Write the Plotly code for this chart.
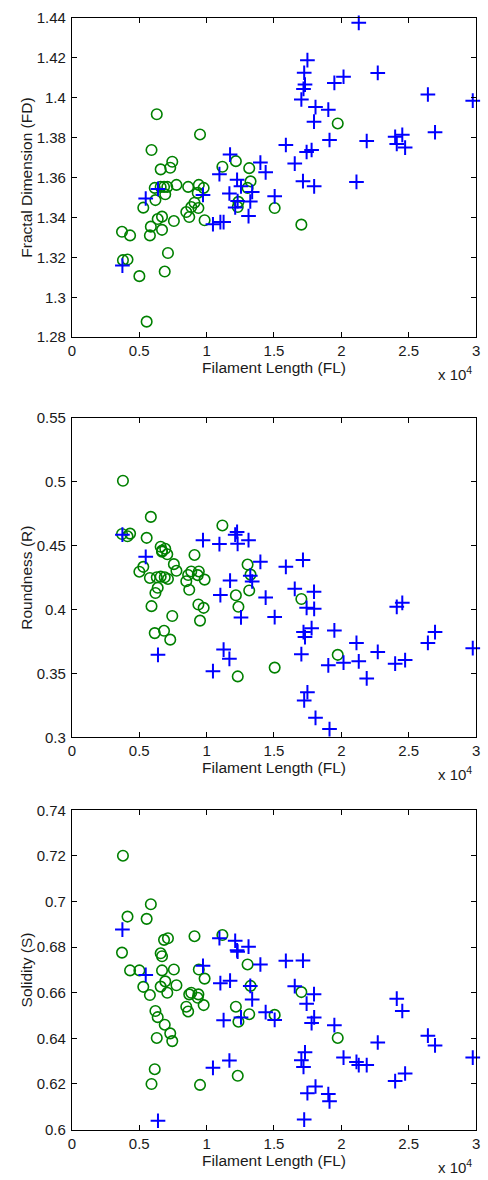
import plotly.graph_objects as go

# ---- data -------------------------------------------------------------
# Filament length (FL) of the two groups
fl_cross = [3750, 5480, 6390, 9730, 10470, 10950, 11020, 11260, 11690, 11740,
            12120, 12260, 12300, 12550, 13110, 13240, 13380, 13990, 14380, 15050,
            15880, 16540, 17030, 17150, 17190, 17240, 17300, 17420, 17480, 17790,
            17970, 17980, 18080, 19030, 19120, 19480, 20160, 21120, 21290, 21880,
            22700, 23990, 24110, 24520, 24730, 26420, 26950, 29750]
fd_cross = [1.3159, 1.3495, 1.3543, 1.3513, 1.3366, 1.3617, 1.3377, 1.3377, 1.3520, 1.3715,
            1.3450, 1.3589, 1.3482, 1.3556, 1.3407, 1.3480, 1.3528, 1.3675, 1.3626, 1.3506,
            1.3763, 1.3670, 1.3991, 1.3582, 1.4044, 1.4125, 1.4066, 1.3728, 1.4188, 1.3738,
            1.3880, 1.3556, 1.3953, 1.3940, 1.3788, 1.4074, 1.4105, 1.3578, 1.4375, 1.3783,
            1.4124, 1.3804, 1.3768, 1.3814, 1.3750, 1.4016, 1.3827, 1.3985]
r_cross = [0.4587, 0.4413, 0.3646, 0.4544, 0.3518, 0.4513, 0.4114, 0.3687, 0.3615, 0.4227,
           0.4587, 0.4608, 0.4515, 0.3939, 0.4544, 0.4266, 0.4220, 0.4374, 0.4094, 0.3942,
           0.4335, 0.4163, 0.3651, 0.4389, 0.3824, 0.3289, 0.3785, 0.4014, 0.3353, 0.3855,
           0.4140, 0.4006, 0.3153, 0.3564, 0.3065, 0.3837, 0.3585, 0.3739, 0.3595, 0.3461,
           0.3669, 0.3577, 0.4022, 0.4053, 0.3605, 0.3739, 0.3824, 0.3698]
s_cross = [0.6877, 0.6678, 0.6039, 0.6718, 0.6271, 0.6839, 0.6642, 0.6480, 0.6303, 0.6653,
           0.6828, 0.6786, 0.6780, 0.6492, 0.6802, 0.6630, 0.6571, 0.6724, 0.6515, 0.6481,
           0.6740, 0.6629, 0.6304, 0.6741, 0.6275, 0.6044, 0.6339, 0.6552, 0.6160, 0.6467,
           0.6594, 0.6492, 0.6189, 0.6156, 0.6124, 0.6458, 0.6316, 0.6297, 0.6283, 0.6283,
           0.6382, 0.6213, 0.6574, 0.6520, 0.6246, 0.6412, 0.6369, 0.6316]

fl_circle = [3720, 3790, 4130, 4320, 5010, 5300, 5550, 5790, 5860, 5910,
             6150, 6200, 6300, 6370, 6590, 6590, 6690, 6690, 6840, 6890,
             6930, 7080, 7130, 7300, 7450, 7570, 7760, 8490, 8630, 8710,
             8860, 9100, 9340, 9390, 9420, 9510, 9780, 9850, 11170, 12170,
             12310, 12360, 13040, 13160, 13260, 15050, 17030, 19730]
fd_circle = [1.3328, 1.3186, 1.3189, 1.3310, 1.3106, 1.3449, 1.2878, 1.3310, 1.3354, 1.3738,
             1.3548, 1.3487, 1.3917, 1.3392, 1.3641, 1.3553, 1.3404, 1.3338, 1.3553, 1.3129,
             1.3516, 1.3553, 1.3222, 1.3649, 1.3679, 1.3382, 1.3563, 1.3427, 1.3553, 1.3402,
             1.3452, 1.3474, 1.3523, 1.3447, 1.3563, 1.3816, 1.3548, 1.3386, 1.3654, 1.3682,
             1.3452, 1.3478, 1.3548, 1.3647, 1.3581, 1.3447, 1.3364, 1.3871]
r_circle = [0.4592, 0.5009, 0.4574, 0.4595, 0.4297, 0.4335, 0.4562, 0.4248, 0.4726, 0.4027,
            0.3816, 0.4130, 0.4253, 0.4171, 0.4258, 0.4492, 0.4454, 0.4462, 0.3834, 0.4253,
            0.4476, 0.4433, 0.4240, 0.3765, 0.3950, 0.4356, 0.4304, 0.4222, 0.4271, 0.4155,
            0.4299, 0.4428, 0.4270, 0.4040, 0.4299, 0.3914, 0.4014, 0.4235, 0.4659, 0.4112,
            0.3477, 0.4022, 0.4353, 0.4150, 0.4274, 0.3546, 0.4083, 0.3646]
s_circle = [0.6776, 0.7201, 0.6934, 0.6698, 0.6698, 0.6626, 0.6924, 0.6590, 0.6988, 0.6200,
            0.6265, 0.6520, 0.6402, 0.6493, 0.6773, 0.6627, 0.6760, 0.6698, 0.6832, 0.6460,
            0.6650, 0.6600, 0.6839, 0.6422, 0.6388, 0.6702, 0.6633, 0.6539, 0.6518, 0.6593,
            0.6600, 0.6848, 0.6578, 0.6593, 0.6702, 0.6196, 0.6546, 0.6662, 0.6853, 0.6539,
            0.6236, 0.6473, 0.6724, 0.6506, 0.6630, 0.6503, 0.6603, 0.6402]

x_ticks = [0, 5000, 10000, 15000, 20000, 25000, 30000]
x_ticktext = ["0", "0.5", "1", "1.5", "2", "2.5", "3"]

panels = [
    dict(title="Fractal Dimension (FD)", cross=fd_cross, circle=fd_circle,
         rng=[1.28, 1.44],
         ticks=[1.28, 1.30, 1.32, 1.34, 1.36, 1.38, 1.40, 1.42, 1.44],
         ticktext=["1.28", "1.3", "1.32", "1.34", "1.36", "1.38", "1.4", "1.42", "1.44"]),
    dict(title="Roundness (R)", cross=r_cross, circle=r_circle,
         rng=[0.30, 0.55],
         ticks=[0.30, 0.35, 0.40, 0.45, 0.50, 0.55],
         ticktext=["0.3", "0.35", "0.4", "0.45", "0.5", "0.55"]),
    dict(title="Solidity (S)", cross=s_cross, circle=s_circle,
         rng=[0.60, 0.74],
         ticks=[0.60, 0.62, 0.64, 0.66, 0.68, 0.70, 0.72, 0.74],
         ticktext=["0.6", "0.62", "0.64", "0.66", "0.68", "0.7", "0.72", "0.74"]),
]

# ---- layout geometry (pixels) ----------------------------------------
W, H = 488, 1180
LEFT, RIGHT = 69, 480
BOXES = [(9, 333), (415, 739), (813, 1137)]   # (top, bottom) of each axes box

FONT = "Liberation Sans, Arial, Helvetica, sans-serif"
INK = "#1a1a1a"

fig = go.Figure()
layout = dict(
    width=W, height=H,
    margin=dict(l=0, r=0, t=0, b=0),
    paper_bgcolor="white", plot_bgcolor="white",
    showlegend=False,
    font=dict(family=FONT, color=INK, size=15),
)
annotations = []

for i, p in enumerate(panels):
    n = "" if i == 0 else str(i + 1)
    top, bot = BOXES[i]
    fig.add_trace(go.Scatter(
        x=fl_circle, y=p["circle"], mode="markers", cliponaxis=False,
        marker=dict(symbol="circle-open", size=10.5, color="#008000",
                    line=dict(width=1.6, color="#008000")),
        xaxis="x" + n, yaxis="y" + n))
    fig.add_trace(go.Scatter(
        x=fl_cross, y=p["cross"], mode="markers", cliponaxis=False,
        marker=dict(symbol="cross-thin-open", size=10.5, color="#0000ff",
                    line=dict(width=2, color="#0000ff")),
        xaxis="x" + n, yaxis="y" + n))

    common = dict(showline=True, linecolor="black", linewidth=1, mirror="ticks",
                  ticks="inside", ticklen=5, tickwidth=1, tickcolor="black",
                  showgrid=False, zeroline=False,
                  tickfont=dict(family=FONT, size=15, color=INK))
    layout["xaxis" + n] = dict(
        common, domain=[LEFT / W, RIGHT / W], anchor="y" + n,
        range=[0, 30000], tickmode="array", tickvals=x_ticks, ticktext=x_ticktext,
        ticklabelstandoff=0,
        title=dict(text="Filament Length (FL)", standoff=0,
                   font=dict(family=FONT, size=15.5, color=INK)))
    layout["yaxis" + n] = dict(
        common, domain=[1 - bot / H, 1 - top / H], anchor="x" + n,
        range=p["rng"], tickmode="array", tickvals=p["ticks"], ticktext=p["ticktext"],
        ticklabelstandoff=2,
        title=dict(text=p["title"], standoff=0,
                   font=dict(family=FONT, size=15.5, color=INK)))
    annotations.append(dict(
        text="x 10<sup>4</sup>", xref="paper", yref="paper",
        x=478 / W, y=1 - (bot + 37) / H, xanchor="right", yanchor="middle",
        showarrow=False, font=dict(family=FONT, size=15, color=INK)))

layout["annotations"] = annotations
fig.update_layout(**layout)
fig.write_html("out.html")
